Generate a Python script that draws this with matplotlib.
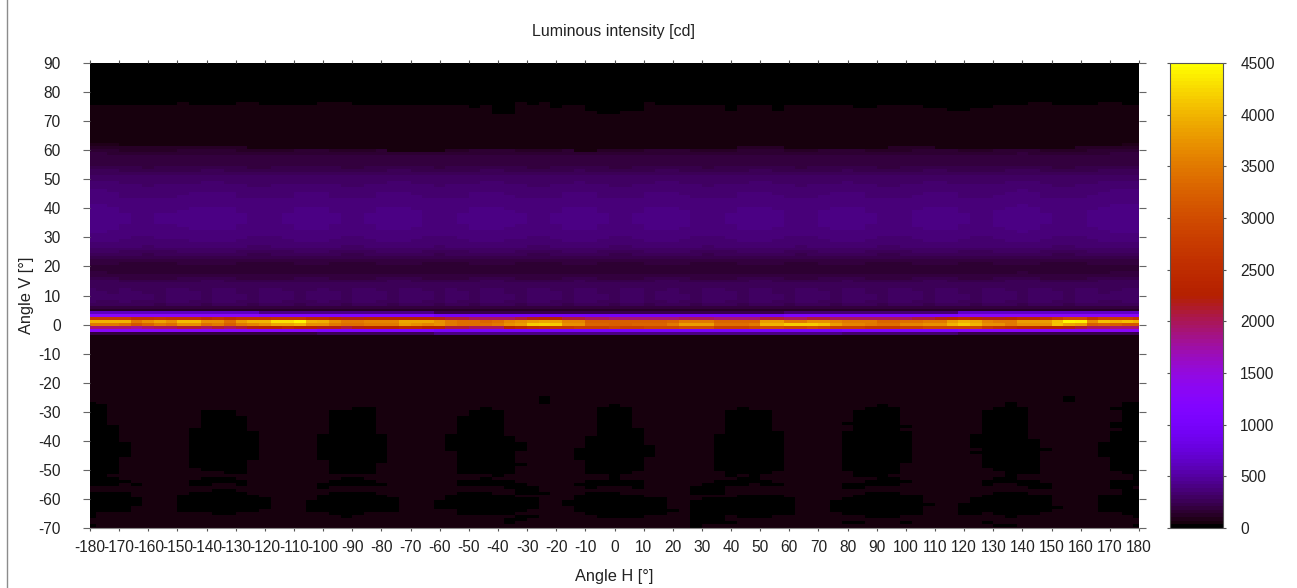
import numpy as np
import matplotlib
matplotlib.use("Agg")
import matplotlib.pyplot as plt
from matplotlib.lines import Line2D

plt.rcParams['font.family'] = ['Liberation Sans', 'DejaVu Sans']
plt.rcParams['axes.unicode_minus'] = False

# Grid of the measurement: one column every 4 deg, one row every 1 deg
angle_h = list(range(-180, 181, 4))
angle_v = list(range(-70, 91))

h_ticks = list(range(-180, 181, 10))
v_ticks = list(range(-70, 91, 10))
cb_ticks = list(range(0, 4501, 500))

# Background levels
level_black = 15
level_dark = 50

# Vertical profile of the wide upper lobe, V = 62 down to V = 5
upper_profile = [70, 110, 140, 170, 180, 190, 195, 200, 215, 240, 270, 290, 300, 310, 320, 330,
                 340, 345, 350, 360, 370, 375, 380, 385, 390, 390, 390, 390, 385, 380, 375, 365,
                 355, 345, 335, 320, 300, 280, 250, 220, 195, 175, 165, 165, 170, 185, 210, 240,
                 260, 270, 280, 285, 290, 290, 280, 255, 190, 120]

# Narrow beam rows, one value per H column
row_v1 = [4000, 4000, 4000, 4000, 3500, 3700, 3900, 3700, 4050, 4050, 3700, 3700, 3400,
          3800, 4000, 4000, 4300, 4300, 4450, 4000, 3950, 3700, 3500, 3500, 3600, 3600,
          3600, 3900, 3900, 3900, 3700, 3500, 3400, 3400, 3300, 3400, 3600, 3700, 3800,
          3900, 3900, 3600, 3600, 3200, 3200, 3200, 3200, 3200, 3200, 3200, 3300, 3500,
          3500, 3500, 3300, 3300, 3300, 3300, 3800, 3800, 3500, 3500, 3700, 3700, 3600,
          3500, 3500, 3500, 3300, 3300, 3400, 3400, 3500, 3500, 3800, 4000, 3900, 3600,
          3500, 3500, 3800, 3800, 3800, 4100, 4450, 4400, 3700, 4100, 4000, 4100, 4000]
row_v0 = [3500, 3500, 3500, 3400, 3100, 3300, 3500, 3400, 3700, 3700, 3400, 3500, 3200,
          3500, 3600, 3700, 3900, 3900, 4000, 3700, 3700, 3500, 3400, 3400, 3500, 3500,
          3500, 3800, 3700, 3600, 3700, 3500, 3400, 3400, 3400, 3500, 3700, 3800, 4150,
          4200, 4150, 3700, 3700, 3300, 3300, 3200, 3200, 3300, 3300, 3300, 3500, 3800,
          3800, 3800, 3400, 3400, 3400, 3500, 4000, 4000, 4150, 4150, 4150, 4100, 3800,
          3600, 3600, 3500, 3400, 3400, 3600, 3600, 3700, 3700, 4000, 4150, 4000, 3700,
          3700, 3500, 3700, 3700, 3700, 4100, 3900, 3800, 3200, 3300, 3200, 3100, 3100]
row_vm1 = [1900, 1900, 1900, 1900, 1800, 1900, 2000, 2000, 2100, 2100, 2000, 2100, 2000,
           2100, 2200, 2300, 2300, 2400, 2300, 2300, 2200, 2200, 2100, 2200, 2300, 2300,
           2300, 2400, 2400, 2300, 2300, 2100, 2100, 2000, 2000, 2000, 2300, 2400, 2500,
           2600, 2700, 2700, 2800, 2800, 2800, 2900, 2800, 2800, 2900, 2900, 2900, 3000,
           3000, 3000, 2800, 2800, 2800, 2900, 3000, 3000, 2900, 2900, 3000, 2900, 2800,
           2800, 2800, 2700, 2700, 2700, 2800, 2800, 2900, 2900, 2900, 2900, 2900, 2700,
           2600, 2500, 2400, 2400, 2300, 2300, 2200, 2100, 2000, 2000, 1900, 1900, 1900]
row_v2 = [2700, 2700, 2700, 2700, 2500, 2500, 2600, 2500, 2500, 2500, 2400, 2500, 2400,
          2500, 2500, 2500, 2600, 2600, 2600, 2400, 2400, 2300, 2200, 2200, 2300, 2300,
          2300, 2300, 2300, 2300, 2200, 2100, 2100, 2000, 2000, 2000, 2000, 2100, 2200,
          2300, 2300, 2100, 2100, 2000, 2000, 1900, 1900, 1900, 1900, 1900, 1900, 2000,
          2000, 2000, 1900, 1900, 1900, 1900, 2100, 2100, 2000, 2000, 2100, 2100, 2000,
          2000, 2000, 2000, 2000, 2000, 2000, 2100, 2100, 2200, 2300, 2400, 2300, 2200,
          2200, 2300, 2400, 2400, 2500, 2700, 2900, 2900, 2600, 2800, 2800, 2800, 2700]
row_v3 = [1300] * 15 + [1150] * 15 + [950] * 30 + [1100] * 15 + [1300] * 16
row_v4 = [600] * 15 + [400] * 15 + [220] * 30 + [350] * 15 + [650] * 16
row_vm2 = [1300] * 20 + [1150] * 10 + [1000] * 35 + [1100] * 10 + [1300] * 16
row_vm3 = [200] * 20 + [280] * 10 + [420] * 35 + [320] * 10 + [220] * 16

# Column to column ripple of the wide lobe
upper_gain = [1.04, 1.04, 1.03, 1.0, 0.99, 0.98, 1.0, 1.0, 1.01, 1.02, 1.03, 1.03, 1.02,
              1.0, 0.98, 0.98, 0.99, 1.0, 1.02, 1.02, 1.02, 1.0, 0.98, 0.98, 1.0, 1.02,
              1.03, 1.03, 1.01, 0.99, 0.98, 0.99, 1.0, 1.02, 1.03, 1.03, 1.01, 1.0, 0.98,
              0.98, 1.0, 1.02, 1.03, 1.02, 1.0, 0.98, 0.98, 1.0, 1.02, 1.03, 1.03, 1.01,
              0.99, 0.98, 0.99, 1.0, 1.02, 1.03, 1.03, 1.01, 0.99, 0.98, 0.99, 1.01, 1.02,
              1.03, 1.02, 1.0, 0.98, 0.98, 0.99, 1.01, 1.03, 1.03, 1.02, 1.0, 0.99, 0.99,
              1.01, 1.03, 1.04, 1.03, 1.0, 0.98, 0.98, 0.99, 1.01, 1.03, 1.04, 1.04, 1.04]
lower_gain = [1.03, 1.0, 0.97, 1.05, 1.0, 0.97, 0.95, 1.03, 1.06, 1.0, 0.96, 1.03, 1.05,
              0.97, 0.95, 1.03, 1.06, 1.0, 0.96, 0.99, 1.05, 1.0, 0.96, 1.03, 1.06, 0.99,
              0.95, 1.01, 1.06, 1.0, 0.96, 1.05, 1.0, 0.95, 1.03, 1.06, 0.97, 0.95, 1.03,
              1.06, 1.0, 0.96, 1.03, 1.06, 0.97, 0.95, 1.05, 1.03, 0.96, 1.0, 1.06, 0.97,
              0.95, 1.03, 1.06, 1.0, 0.96, 1.04, 1.06, 0.97, 0.95, 1.03, 1.06, 1.0, 0.96,
              1.03, 1.05, 0.97, 0.96, 1.03, 1.06, 1.0, 0.95, 1.03, 1.06, 0.97, 0.95, 1.05,
              1.06, 1.0, 0.96, 1.01, 1.06, 1.0, 0.95, 1.04, 1.06, 0.97, 1.0, 1.03, 1.03]

# Highest V still in the faint band and in the wide lobe, per H column
top_edge = [75, 75, 75, 75, 75, 75, 75, 75, 76, 75, 75, 75, 75,
            76, 76, 75, 75, 75, 75, 75, 76, 76, 76, 75, 75, 75,
            75, 75, 75, 75, 75, 75, 75, 74, 75, 72, 72, 76, 75,
            76, 74, 75, 75, 73, 72, 72, 73, 73, 76, 75, 75, 75,
            75, 75, 75, 73, 75, 75, 75, 73, 75, 75, 75, 75, 75,
            75, 74, 74, 75, 75, 75, 75, 74, 74, 73, 73, 74, 74,
            75, 75, 75, 76, 76, 75, 75, 75, 75, 76, 76, 75, 75]
upper_edge = [62, 62, 62, 61, 61, 61, 61, 61, 61, 61, 61, 61, 61,
              61, 60, 60, 60, 60, 60, 60, 60, 60, 60, 60, 60, 60,
              59, 59, 59, 59, 59, 60, 60, 60, 60, 60, 60, 60, 60,
              60, 60, 60, 59, 59, 60, 60, 60, 60, 60, 60, 60, 60,
              60, 60, 60, 60, 61, 61, 61, 61, 60, 60, 60, 60, 60,
              60, 60, 60, 60, 61, 61, 61, 61, 60, 60, 60, 60, 60,
              60, 60, 60, 60, 60, 60, 60, 61, 61, 61, 61, 62, 62]

# Near-zero patches below the beam: (H, V high, V low)
dark_cells = [
    # around H = -180
    (-180, -27, -55), (-176, -28, -55), (-172, -35, -51), (-172, -53, -55), (-168, -41, -45),
    (-168, -54, -54), (-164, -55, -55), (-180, -58, -66), (-176, -58, -64), (-172, -58, -64),
    (-168, -58, -64), (-164, -60, -62), (-180, -69, -69),
    # around H = -135
    (-144, -36, -49), (-140, -30, -50), (-136, -30, -50), (-132, -30, -51), (-128, -32, -51),
    (-124, -37, -46), (-144, -54, -55), (-140, -53, -55), (-136, -53, -54), (-132, -53, -54),
    (-128, -54, -55), (-148, -59, -64), (-144, -58, -64), (-140, -58, -64), (-136, -57, -65),
    (-132, -57, -65), (-128, -58, -64), (-124, -59, -64), (-120, -60, -63),
    # around H = -90
    (-100, -38, -46), (-96, -30, -51), (-92, -30, -51), (-88, -29, -51), (-84, -29, -51),
    (-80, -38, -47), (-100, -55, -56), (-96, -54, -55), (-92, -53, -55), (-88, -53, -55),
    (-84, -54, -55), (-80, -55, -55), (-104, -61, -64), (-100, -59, -64), (-96, -58, -65),
    (-92, -58, -66), (-88, -58, -65), (-84, -58, -64), (-80, -59, -64), (-76, -60, -64),
    # around H = -45
    (-60, -61, -63), (-24, -25, -27), (-56, -38, -43), (-52, -32, -51), (-48, -30, -51),
    (-44, -29, -51), (-40, -30, -52), (-36, -39, -51), (-32, -41, -43), (-32, -48, -48),
    (-52, -54, -55), (-48, -54, -55), (-44, -53, -55), (-40, -54, -55), (-36, -54, -56),
    (-32, -55, -58), (-28, -56, -58), (-24, -58, -58), (-56, -59, -63), (-52, -58, -65),
    (-48, -58, -65), (-44, -58, -65), (-40, -59, -65), (-36, -59, -65), (-32, -60, -64),
    (-28, -60, -63), (-36, -67, -68), (-32, -66, -67), (-28, -66, -66),
    # around H = 0
    (-12, -43, -46), (-8, -39, -51), (-4, -29, -51), (0, -28, -52), (4, -29, -51),
    (8, -36, -50), (12, -42, -45), (-12, -55, -55), (-8, -54, -56), (-4, -54, -55),
    (0, -53, -55), (4, -54, -55), (8, -54, -56), (-16, -61, -62), (-12, -59, -64),
    (-8, -58, -65), (-4, -58, -66), (0, -58, -66), (4, -59, -66), (8, -59, -66),
    (12, -60, -65), (16, -60, -65), (20, -64, -64),
    # around H = 45
    (36, -38, -50), (40, -30, -52), (44, -29, -51), (48, -30, -52), (52, -30, -51),
    (56, -37, -50), (28, -56, -58), (32, -55, -58), (36, -54, -58), (40, -54, -55),
    (44, -53, -55), (48, -53, -54), (52, -54, -55), (56, -55, -55), (28, -61, -70),
    (32, -60, -68), (36, -60, -68), (40, -60, -65), (40, -68, -68), (44, -59, -66),
    (48, -59, -66), (52, -59, -66), (56, -59, -65), (60, -60, -65),
    # around H = 90
    (80, -37, -50), (80, -34, -34), (84, -30, -52), (88, -29, -52), (92, -28, -52),
    (96, -29, -51), (100, -37, -47), (100, -35, -35), (80, -55, -56), (84, -55, -56),
    (88, -54, -55), (92, -53, -55), (96, -53, -55), (100, -54, -54), (76, -61, -64),
    (80, -60, -65), (84, -59, -65), (88, -58, -66), (92, -58, -66), (96, -58, -66),
    (100, -59, -65), (104, -59, -65), (108, -62, -62), (80, -68, -68), (84, -68, -68),
    (100, -68, -68),
    # around H = 135
    (124, -38, -42), (124, -44, -44), (128, -30, -49), (132, -29, -50), (136, -27, -54),
    (140, -29, -51), (144, -40, -51), (148, -43, -43), (128, -54, -55), (132, -53, -54),
    (136, -53, -54), (140, -54, -55), (144, -54, -56), (148, -55, -56), (120, -62, -65),
    (124, -60, -65), (128, -59, -64), (132, -58, -65), (136, -58, -66), (140, -58, -65),
    (144, -59, -65), (148, -59, -64), (152, -63, -63), (128, -68, -68), (132, -69, -69),
    (136, -69, -69), (156, -25, -26),
    # around H = 180
    (168, -41, -45), (172, -29, -29), (172, -34, -35), (172, -37, -50), (176, -27, -51),
    (180, -27, -52), (172, -54, -56), (176, -54, -57), (180, -53, -55), (180, -57, -66),
    (168, -59, -64), (172, -59, -64), (176, -58, -65), (180, -69, -69),
]

# Put the matrix together
h = np.array(angle_h)
v = np.array(angle_v)
intensity = np.full((len(v), len(h)), float(level_dark))

for col in range(len(h)):
    intensity[v > top_edge[col], col] = level_black
    for k, value in enumerate(upper_profile):
        vv = 62 - k
        if vv > upper_edge[col]:
            continue
        gain = upper_gain[col] if vv > 12 else lower_gain[col]
        intensity[vv + 70, col] = value * gain

for vv, row in [(4, row_v4), (3, row_v3), (2, row_v2), (1, row_v1), (0, row_v0),
                (-1, row_vm1), (-2, row_vm2), (-3, row_vm3)]:
    intensity[vv + 70, :] = row

for hh, v_hi, v_lo in dark_cells:
    col = angle_h.index(hh)
    intensity[(v <= v_hi) & (v >= v_lo), col] = level_black

W, H = 1297, 588
fig = plt.figure(figsize=(W / 100, H / 100), dpi=100)
ax = fig.add_axes([90 / W, 1 - 528 / H, 1049 / W, 465 / H])
cax = fig.add_axes([1170 / W, 1 - 528 / H, 53 / W, 465 / H])

h_edges = np.append(h - 2, h[-1] + 2)
v_edges = np.append(v - 0.5, v[-1] + 0.5)
cmap = plt.get_cmap('gnuplot', 128)
mesh = ax.pcolormesh(h_edges, v_edges, intensity, cmap=cmap, vmin=0, vmax=4500, rasterized=True)
ax.set_xlim(-180, 180)
ax.set_ylim(-70, 90)

text_color = '#222222'
ax.set_xticks(h_ticks)
ax.set_xticklabels([str(t) for t in h_ticks])
ax.set_yticks(v_ticks)
ax.set_yticklabels([str(t) for t in v_ticks])
ax.tick_params(axis='x', top=True, bottom=True, length=2.5, width=0.8, color='#555555',
               labelsize=11.2, labelcolor=text_color, pad=6.5)
ax.tick_params(axis='y', left=True, right=True, length=5, width=0.8, color='#666666',
               labelsize=11.2, labelcolor=text_color, pad=16)
for side in ['top', 'left', 'right']:
    ax.spines[side].set_visible(False)
ax.spines['bottom'].set_color('#888888')

cb = fig.colorbar(mesh, cax=cax)
cb.set_ticks(cb_ticks)
cb.set_ticklabels([str(t) for t in cb_ticks])
cax.tick_params(axis='y', left=True, right=True, length=2.5, width=0.8, color='#555555',
                labelsize=11.2, labelcolor=text_color, pad=10)
cb.outline.set_edgecolor('#555555')
cb.outline.set_linewidth(0.8)

fig.text(613.5 / W, 1 - 31.5 / H, 'Luminous intensity [cd]', ha='center', va='center',
         fontsize=11.5, color=text_color)
fig.text(614 / W, 1 - 576 / H, 'Angle H [°]', ha='center', va='center',
         fontsize=11.8, color=text_color)
fig.text(27 / W, 1 - 295 / H, 'Angle V [°]', ha='center', va='center', rotation=90,
         fontsize=11.8, color=text_color)

# Thin grey rule down the left side of the page
fig.add_artist(Line2D([7.3 / W, 7.3 / W], [0, 1], color='#8c8c8c', linewidth=1))

fig.savefig('out.png', dpi=100)
